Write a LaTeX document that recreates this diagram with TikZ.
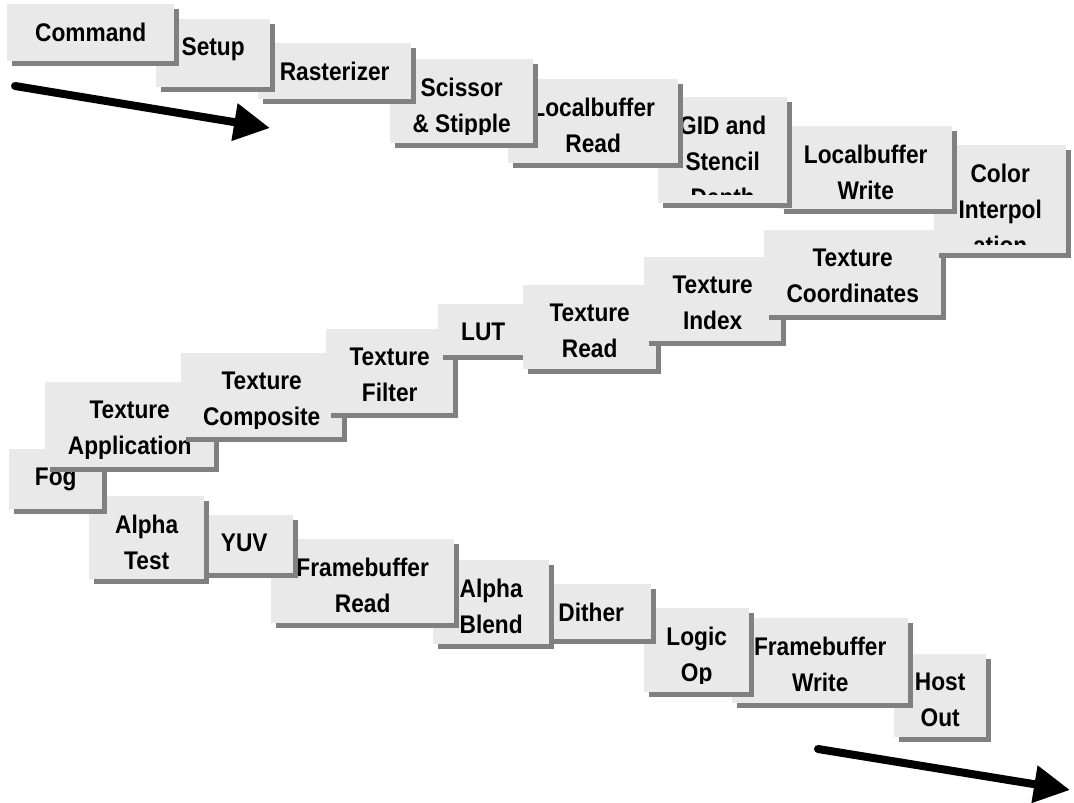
\documentclass[tikz,border=0pt]{standalone}
\usepackage{fontspec}
\setmainfont{Liberation Sans}[FakeStretch=0.89]
\usetikzlibrary{arrows.meta}
\usetikzlibrary{shadows}
\definecolor{boxgray}{RGB}{233,233,233}
\definecolor{shadegray}{RGB}{128,128,128}

\begin{document}
\begin{tikzpicture}[x=1pt, y=-1pt,
  stagetext/.style={anchor=north, inner sep=0pt, minimum width=0pt, minimum height=0pt, align=center, font=\fontsize{25.5pt}{36pt}\selectfont\bfseries},
  stage/.style={anchor=north west, inner sep=0pt, fill=boxgray,
    drop shadow={shadow xshift=5pt, shadow yshift=-5pt, fill=shadegray, opacity=1},
    path picture={\clip ([yshift=8.5pt]path picture bounding box.south west) rectangle (path picture bounding box.north east);
      \node[stagetext] at ([yshift=-18.5pt]path picture bounding box.north) {#1};}},
  flow/.style={line width=8pt, line cap=round, -{Triangle[length=36pt, width=36pt]}}]

\useasboundingbox (0,0) rectangle (1074,803);

\node[stage={Host\\Out}, minimum width=92pt, minimum height=83pt] (hostout) at (894,654) {};
\node[stage={Framebuffer\\Write}, minimum width=176pt, minimum height=85pt] (fbwrite) at (732,618) {};
\node[stage={Logic\\Op}, minimum width=105pt, minimum height=84pt] (logicop) at (644,608) {};
\node[stage={Dither}, minimum width=120pt, minimum height=55pt] (dither) at (531,584) {};
\node[stage={Alpha\\Blend}, minimum width=116pt, minimum height=84pt] (alphablend) at (433,560) {};
\node[stage={Framebuffer\\Read}, minimum width=183pt, minimum height=84pt] (fbread) at (271,539) {};
\node[stage={YUV}, minimum width=98pt, minimum height=58pt] (yuv) at (195,515) {};
\node[stage={Alpha\\Test}, minimum width=115pt, minimum height=83pt] (alphatest) at (89,496) {};
\node[stage={Fog}, minimum width=93pt, minimum height=60pt] (fog) at (9,449) {};
\node[stage={Texture\\Application}, minimum width=169pt, minimum height=85pt] (texapp) at (45,382) {};
\node[stage={Texture\\Composite}, minimum width=161pt, minimum height=84pt] (texcomp) at (181,353) {};
\node[stage={Texture\\Filter}, minimum width=127pt, minimum height=84pt] (texfilter) at (326,329) {};
\node[stage={LUT}, minimum width=90pt, minimum height=51pt] (lut) at (438,304) {};
\node[stage={Texture\\Read}, minimum width=133pt, minimum height=84pt] (texread) at (523,285) {};
\node[stage={Texture\\Index}, minimum width=137pt, minimum height=84pt] (texindex) at (644,257) {};
\node[stage={Texture\\Coordinates}, minimum width=177pt, minimum height=85pt] (texcoord) at (764,230) {};
\node[stage={Color\\Interpol\\ation}, minimum width=132pt, minimum height=108pt] (colorint) at (934,145) {};
\node[stage={Localbuffer\\Write}, minimum width=173pt, minimum height=83pt] (lbwrite) at (779,126) {};
\node[stage={GID and\\Stencil\\Depth}, minimum width=129pt, minimum height=106pt] (gid) at (658,97) {};
\node[stage={Localbuffer\\Read}, minimum width=170pt, minimum height=84pt] (lbread) at (508,79) {};
\node[stage={Scissor\\\& Stipple}, minimum width=143pt, minimum height=84pt] (scissor) at (390,59) {};
\node[stage={Rasterizer}, minimum width=153pt, minimum height=56pt] (raster) at (258,43) {};
\node[stage={Setup}, minimum width=114pt, minimum height=68pt] (setup) at (156,19) {};
\node[stage={Command}, minimum width=167pt, minimum height=57pt] (command) at (7,4) {};

\coordinate (in1) at (15,86);
\coordinate (in2) at (270,128);
\coordinate (out1) at (818,749);
\coordinate (out2) at (1070,790);
\draw[flow] (in1) -- (in2);
\draw[flow] (out1) -- (out2);
\end{tikzpicture}
\end{document}
